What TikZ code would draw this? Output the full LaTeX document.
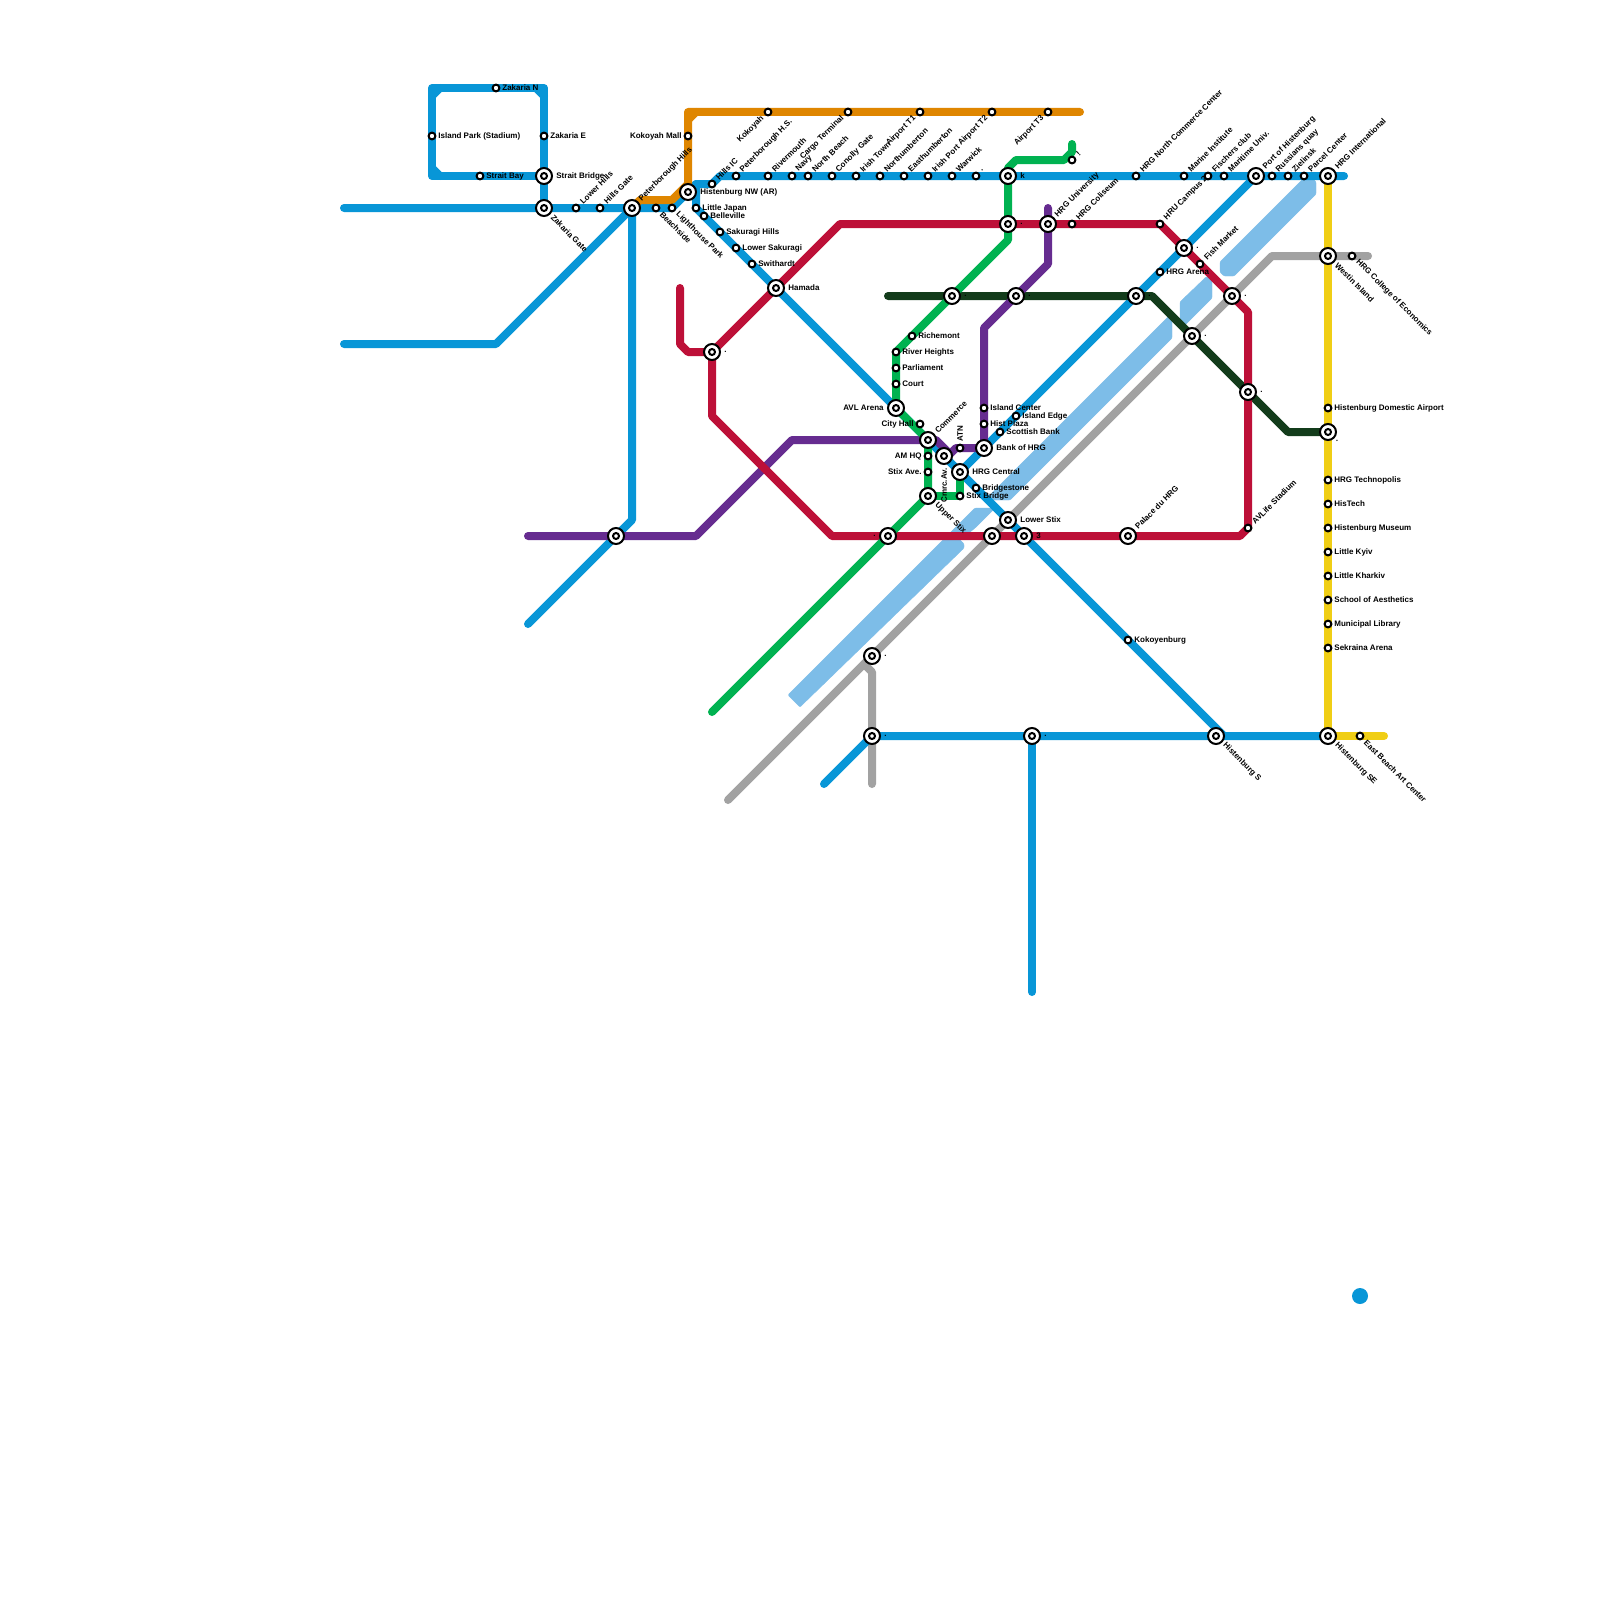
\documentclass[tikz,border=0pt]{standalone}
\usepackage{fontspec}
\setmainfont{Liberation Sans}
\definecolor{mblue}{HTML}{0896D7}
\definecolor{morange}{HTML}{DF8600}
\definecolor{mred}{HTML}{BD1038}
\definecolor{mgreen}{HTML}{00B251}
\definecolor{mdark}{HTML}{133C1B}
\definecolor{mpurple}{HTML}{662C90}
\definecolor{myellow}{HTML}{F0CE15}
\definecolor{mgrey}{HTML}{A2A2A2}
\definecolor{mriver}{HTML}{7DBDE8}
\pgfdeclarelayer{lines}
\pgfsetlayers{lines,main}
\tikzset{
  metro/.style={line width=4pt,line cap=round,line join=round},
  river/.style={fill=mriver,draw=mriver,line width=.2pt,rounded corners=.5pt},
  smallst/.style={circle,draw=black,fill=white,line width=1pt,minimum size=3.4pt,inner sep=0pt},
  bigst/.style={circle,draw=black,fill=white,line width=1pt,minimum size=8pt,inner sep=0pt,
    path picture={\draw[line width=1pt,fill=white] (path picture bounding box.center) circle (1.5pt);}},
  stlabel/.style={inner sep=0pt,text=black,font=\fontsize{4}{5}\selectfont\bfseries},
  lE/.style={anchor=west,xshift=#1},
  lW/.style={anchor=east,xshift=-#1},
  lNE/.style={anchor=west,rotate=45,xshift=.7*#1+1.5pt},
  lSE/.style={anchor=west,rotate=-45,xshift=.7*#1+1.5pt},
  lSW/.style={anchor=east,rotate=45,xshift=-1.2*#1},
  lN/.style={anchor=west,rotate=90,xshift=#1},
  lS/.style={anchor=east,rotate=90,xshift=-#1}
}
\newcommand{\stS}[5]{\node[smallst] (#1) at (#2,#3) {}; \node[stlabel,#4=3pt] (#1-l) at (#2,#3) {#5};}
\newcommand{\stB}[5]{\node[bigst] (#1) at (#2,#3) {}; \node[stlabel,#4=6pt] (#1-l) at (#2,#3) {#5};}
\newcommand{\stN}[3]{\node[bigst] (#1) at (#2,#3) {};}
\newcommand{\cp}[3]{\coordinate (#1) at (#2,#3);}
\begin{document}
\begin{tikzpicture}[x=.5pt,y=-.5pt]
\useasboundingbox (0,0) rectangle (1600,1600);
% stations
\stS{islandpark}{432}{136}{lE}{Island Park (Stadium)}
\stS{zakarian}{496}{88}{lE}{Zakaria N}
\stS{zakariae}{544}{136}{lE}{Zakaria E}
\stS{straitbay}{480}{176}{lE}{Strait Bay}
\stB{straitbridge}{544}{176}{lE}{Strait Bridge}
\stB{zakariagate}{544}{208}{lSE}{Zakaria Gate}
\stS{lowerhills}{576}{208}{lNE}{Lower Hills}
\stS{hillsgate}{600}{208}{lNE}{Hills Gate}
\stB{peterhills}{632}{208}{lNE}{Peterborough Hills}
\stS{beachside}{656}{208}{lSE}{Beachside}
\stS{lighthouse}{672}{208}{lSE}{Lighthouse Park}
\stS{kokoyahmall}{688}{136}{lW}{Kokoyah Mall}
\stB{histnw}{688}{192}{lE}{Histenburg NW (AR)}
\stS{hillsic}{712}{184}{lNE}{Hills IC}
\stS{peterhs}{736}{176}{lNE}{Peterborough H.S.}
\stS{rivermouth}{768}{176}{lNE}{Rivermouth}
\stS{navy}{792}{176}{lNE}{Navy}
\stS{northbeach}{808}{176}{lNE}{North Beach}
\stS{conolly}{832}{176}{lNE}{Conolly Gate}
\stS{irishtown}{856}{176}{lNE}{Irish Town}
\stS{northumb}{880}{176}{lNE}{Northumberton}
\stS{easthumb}{904}{176}{lNE}{Easthumberton}
\stS{irishport}{928}{176}{lNE}{Irish Port}
\stS{warwick}{952}{176}{lNE}{Warwick}
\stS{dotst}{976}{176}{lNE}{.}
\stB{kst}{1008}{176}{lE}{k}
\stS{kokoyah}{768}{112}{lSW}{Kokoyah}
\stS{cargo}{848}{112}{lSW}{Cargo Terminal}
\stS{airportone}{920}{112}{lSW}{Airport T1}
\stS{airporttwo}{992}{112}{lSW}{Airport T2}
\stS{airportthree}{1048}{112}{lSW}{Airport T3}
\stS{bang}{1072}{160}{lNE}{!}
\stB{redgreen}{1008}{224}{lE}{.}
\stB{hrguni}{1048}{224}{lNE}{HRG University}
\stS{coliseum}{1072}{224}{lNE}{HRG Coliseum}
\stS{northcomm}{1136}{176}{lNE}{HRG North Commerce Center}
\stS{marine}{1184}{176}{lNE}{Marine Institute}
\stS{fischers}{1208}{176}{lNE}{Fischers club}
\stS{maritime}{1224}{176}{lNE}{Maritime Univ.}
\stB{port}{1256}{176}{lNE}{Port of Histenburg}
\stS{russians}{1272}{176}{lNE}{Russians quay}
\stS{zielinsk}{1288}{176}{lNE}{Zielinsk}
\stS{parcel}{1304}{176}{lNE}{Parcel Center}
\stB{intl}{1328}{176}{lNE}{HRG International}
\stB{westin}{1328}{256}{lSE}{Westin Island}
\stS{college}{1352}{256}{lSE}{HRG College of Economics}
\stS{campus}{1160}{224}{lNE}{HRU Campus 2}
\stS{arena}{1160}{272}{lE}{HRG Arena}
\stS{fish}{1200}{264}{lNE}{Fish Market}
\stB{xa}{1184}{248}{lE}{.}
\stB{xb}{1232}{296}{lE}{.}
\stB{xc}{1192}{336}{lE}{.}
\stB{xd}{1248}{392}{lE}{.}
\stB{xe}{1136}{296}{lE}{.}
\stB{xf}{952}{296}{lE}{.}
\stB{xg}{1016}{296}{lE}{.}
\stS{domestic}{1328}{408}{lE}{Histenburg Domestic Airport}
\stB{xh}{1328}{432}{lSE}{.}
\stS{techno}{1328}{480}{lE}{HRG Technopolis}
\stS{histech}{1328}{504}{lE}{HisTech}
\stS{museum}{1328}{528}{lE}{Histenburg Museum}
\stS{kyiv}{1328}{552}{lE}{Little Kyiv}
\stS{kharkiv}{1328}{576}{lE}{Little Kharkiv}
\stS{aesth}{1328}{600}{lE}{School of Aesthetics}
\stS{library}{1328}{624}{lE}{Municipal Library}
\stS{sekraina}{1328}{648}{lE}{Sekraina Arena}
\stB{histse}{1328}{736}{lSE}{Histenburg SE}
\stS{eastbeach}{1360}{736}{lSE}{East Beach Art Center}
\stB{hists}{1216}{736}{lSE}{Histenburg S}
\stB{xi}{1032}{736}{lE}{.}
\stB{xj}{872}{736}{lE}{.}
\stB{xk}{872}{656}{lE}{.}
\stS{kokoyen}{1128}{640}{lE}{Kokoyenburg}
\stB{palace}{1128}{536}{lNE}{Palace du HRG}
\stS{avlife}{1248}{528}{lNE}{AVLife Stadium}
\stN{purpleblue}{616}{536}
\stS{japan}{696}{208}{lE}{Little Japan}
\stS{belleville}{704}{216}{lE}{Belleville}
\stS{sakuragi}{720}{232}{lE}{Sakuragi Hills}
\stS{lowersak}{736}{248}{lE}{Lower Sakuragi}
\stS{swithardt}{752}{264}{lE}{Swithardt}
\stB{hamada}{776}{288}{lE}{Hamada}
\stB{xl}{712}{352}{lE}{.}
\stS{richemont}{912}{336}{lE}{Richemont}
\stS{riverh}{896}{352}{lE}{River Heights}
\stS{parliament}{896}{368}{lE}{Parliament}
\stS{court}{896}{384}{lE}{Court}
\stB{avlarena}{896}{408}{lW}{AVL Arena}
\stS{cityhall}{920}{424}{lW}{City Hall}
\stB{commerce}{928}{440}{lNE}{Commerce}
\stS{amhq}{928}{456}{lW}{AM HQ}
\stS{stixave}{928}{472}{lW}{Stix Ave.}
\stB{upperstix}{928}{496}{lSE}{Upper Stix}
\stB{cmrc}{944}{456}{lS}{Cmrc.Av.}
\stS{atn}{960}{448}{lN}{ATN}
\stB{central}{960}{472}{lE}{HRG Central}
\stS{bridgestone}{976}{488}{lE}{Bridgestone}
\stS{stixbridge}{960}{496}{lE}{Stix Bridge}
\stB{lowerstix}{1008}{520}{lE}{Lower Stix}
\stN{greyred}{992}{536}
\stB{three}{1024}{536}{lE}{3}
\stB{greenred}{888}{536}{lW}{.}
\stS{islandc}{984}{408}{lE}{Island Center}
\stS{histplaza}{984}{424}{lE}{Hist Plaza}
\stS{islande}{1016}{416}{lE}{Island Edge}
\stS{scottish}{1000}{432}{lE}{Scottish Bank}
\stB{bank}{984}{448}{lE}{Bank of HRG}
\node[circle,fill=mblue,minimum size=8pt,inner sep=0pt] (bluedot) at (1360,1296) {};
% bends
\cp{ba}{344}{208}\cp{bb}{344}{344}\cp{bc}{496}{344}
\cp{bd}{432}{88}\cp{be}{544}{88}\cp{bf}{432}{176}
\cp{bg}{696}{184}\cp{bh}{720}{176}\cp{bi}{696}{208}\cp{bj}{1224}{736}
\cp{bk}{1344}{176}\cp{bl}{632}{520}\cp{bm}{528}{624}
\cp{bn}{824}{784}\cp{bo}{1032}{992}
\cp{bp}{432}{96}\cp{bq}{440}{88}\cp{br}{536}{88}\cp{bs}{544}{96}
\cp{bt}{432}{168}\cp{bu}{440}{176}
\cp{ca}{640}{200}\cp{cb}{672}{200}\cp{cc}{688}{184}\cp{cd}{688}{112}\cp{ce}{1080}{112}
\cp{cf}{688}{120}\cp{cg}{696}{112}
\cp{da}{680}{288}\cp{db}{680}{344}\cp{dc}{688}{352}\cp{dd}{840}{224}\cp{de}{1248}{312}
\cp{df}{1240}{536}\cp{dg}{832}{536}\cp{dh}{712}{416}
\cp{ea}{1072}{144}\cp{eb}{1072}{152}\cp{ec}{1064}{160}\cp{ed}{1016}{160}\cp{ej}{1008}{168}
\cp{ee}{1008}{240}\cp{ef}{712}{712}
\cp{fa}{888}{296}\cp{fb}{1152}{296}\cp{fc}{1288}{432}
\cp{ga}{528}{536}\cp{gb}{696}{536}\cp{gc}{792}{440}\cp{gd}{936}{440}\cp{ge}{950}{454}\cp{gf}{956}{448}
\cp{gg}{984}{328}\cp{gh}{1048}{264}\cp{gi}{1048}{208}
\cp{ha}{1384}{736}
\cp{ia}{728}{800}\cp{ib}{1272}{256}\cp{ic}{1368}{256}\cp{id}{872}{784}\cp{ie}{872}{672}\cp{if}{864}{664}
\begin{pgfonlayer}{lines}
\fill[white] (0,0) rectangle (1600,1600);
% river
\fill[river] (788,695) -- (800,707) -- (964,548) -- (964,544) -- (960,540) -- (975,528) -- (995,508) -- (975,508) -- cycle;
\fill[river] (985,500) -- (1172,313) -- (1172,338) -- (1010,500) -- cycle;
\fill[river] (1180,302) -- (1206,277) -- (1212,277) -- (1212,298) -- (1180,330) -- cycle;
\fill[river] (1220,262) -- (1306,176) -- (1310,176) -- (1316,182) -- (1316,194) -- (1234,276) -- (1224,276) -- (1220,272) -- cycle;
% grey
\draw[metro,mgrey] (ia) -- (xk.center) -- (xb.center) -- (ib) -- (westin.center) -- (ic);
\draw[metro,mgrey] (id) -- (xj.center) -- (ie) -- (if);
% blue
\draw[metro,mblue] (ba) -- (zakariagate.center) -- (peterhills.center) -- (lighthouse.center) -- (histnw.center) -- (bg) -- (hillsic.center) -- (bh) -- (port.center) -- (intl.center) -- (bk);
\draw[metro,mblue] (bg) -- (bi) -- (hamada.center) -- (bj);
\draw[metro,mblue] (bb) -- (bc) -- (peterhills.center) -- (bl) -- (purpleblue.center) -- (bm);
\draw[metro,mblue] (zakariagate.center) -- (be) -- (bd) -- (bf) -- (straitbridge.center);
\draw[metro,mblue] (bp) -- (bq) (br) -- (bs) (bt) -- (bu);
\draw[metro,mblue] (central.center) -- (port.center);
\draw[metro,mblue] (bn) -- (xj.center) -- (histse.center);
\draw[metro,mblue] (xi.center) -- (bo);
% yellow
\draw[metro,myellow] (intl.center) -- (histse.center) -- (ha);
% dark green
\draw[metro,mdark] (fa) -- (fb) -- (fc) -- (xh.center);
% purple
\draw[metro,mpurple] (ga) -- (gb) -- (gc) -- (gd) -- (ge) -- (gf) -- (bank.center) -- (gg) -- (gh) -- (gi);
% red
\draw[metro,mred] (da) -- (db) -- (dc) -- (xl.center) -- (dd) -- (campus.center) -- (de) -- (avlife.center) -- (df) -- (dg) -- (dh) -- (xl.center);
% orange
\draw[metro,morange] (peterhills.center) -- (ca) -- (cb) -- (cc) -- (cd) -- (ce);
\draw[metro,morange] (cf) -- (cg);
% green
\draw[metro,mgreen] (ea) -- (eb) -- (ec) -- (ed) -- (ej) -- (ee) -- (riverh.center) -- (avlarena.center) -- (commerce.center) -- (upperstix.center) -- (ef);
\draw[metro,mgreen] (upperstix.center) -- (stixbridge.center) -- (central.center);
\end{pgfonlayer}
\end{tikzpicture}
\end{document}
